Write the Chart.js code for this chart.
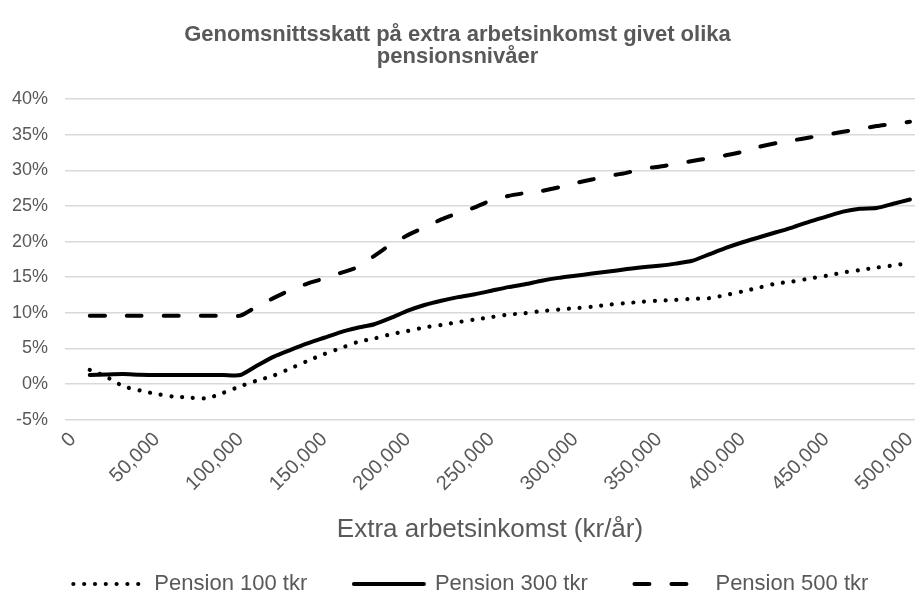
<!DOCTYPE html>
<html>
<head>
<meta charset="utf-8">
<script src="https://cdn.jsdelivr.net/npm/chart.js@4"></script>
<style>
    html, body { margin: 0; padding: 0; background: #ffffff; }
    #wrap { width: 915px; height: 605px; }
</style>
</head>
<body>
<div id="wrap"><canvas id="skattChart" width="915" height="605"></canvas></div>
<script>
// Extra arbetsinkomst (kr/år)
const incomes = [
    10000, 20000, 30000, 40000, 50000, 60000, 70000, 80000, 90000, 100000,
    110000, 120000, 130000, 140000, 150000, 160000, 170000, 180000, 190000, 200000,
    210000, 220000, 230000, 240000, 250000, 260000, 270000, 280000, 290000, 300000,
    310000, 320000, 330000, 340000, 350000, 360000, 370000, 380000, 390000, 400000,
    410000, 420000, 430000, 440000, 450000, 460000, 470000, 480000, 490000, 500000
];

// Genomsnittsskatt i procent
const pension100 = [
    2.0, 1.0, -0.3, -0.9, -1.4, -1.75, -1.9, -2.0, -1.2, -0.3,
    0.5, 1.2, 2.2, 3.25, 4.2, 5.05, 5.9, 6.4, 7.0, 7.45,
    7.95, 8.3, 8.7, 9.05, 9.4, 9.75, 9.95, 10.25, 10.45, 10.65,
    10.85, 11.15, 11.35, 11.55, 11.7, 11.8, 11.95, 12.05, 12.5, 13.0,
    13.55, 14.1, 14.4, 14.8, 15.2, 15.65, 16.0, 16.35, 16.65, 17.0
];
const pension300 = [
    1.27, 1.35, 1.4, 1.3, 1.27, 1.27, 1.27, 1.27, 1.27, 1.27,
    2.6, 3.86, 4.8, 5.7, 6.5, 7.3, 7.9, 8.4, 9.3, 10.3,
    11.1, 11.7, 12.2, 12.6, 13.1, 13.6, 14.0, 14.5, 14.9, 15.2,
    15.5, 15.8, 16.1, 16.4, 16.6, 16.9, 17.3, 18.2, 19.1, 19.9,
    20.6, 21.3, 22.0, 22.8, 23.5, 24.2, 24.6, 24.7, 25.3, 25.9
];
const pension500 = [
    9.6, 9.6, 9.6, 9.6, 9.6, 9.6, 9.6, 9.6, 9.6, 9.6,
    10.9, 12.1, 13.2, 14.1, 14.8, 15.6, 16.4, 18.0, 19.6, 20.9,
    22.0, 23.1, 24.0, 24.8, 25.8, 26.4, 26.8, 27.1, 27.6, 28.2,
    28.7, 29.2, 29.6, 30.2, 30.5, 30.9, 31.3, 31.7, 32.1, 32.6,
    33.3, 33.8, 34.2, 34.6, 35.0, 35.4, 35.8, 36.2, 36.5, 36.8
];

const xTicks = [0, 50000, 100000, 150000, 200000, 250000, 300000, 350000, 400000, 450000, 500000];
const yTicks = [-5, 0, 5, 10, 15, 20, 25, 30, 35, 40];

const textGray = '#595959';
const gridGray = '#d9d9d9';
const fontFamily = '"Liberation Sans", Arial, sans-serif';

function toPoints(values) {
    return values.map((v, i) => ({ x: incomes[i], y: v }));
}

// Gemensamma linjeinställningar
const lineBase = {
    borderColor: '#000000',
    backgroundColor: '#000000',
    pointRadius: 0,
    pointHoverRadius: 0,
    fill: false,
    tension: 0.2
};

document.addEventListener('DOMContentLoaded', function () {
    const ctx = document.getElementById('skattChart').getContext('2d');

    new Chart(ctx, {
        type: 'line',
        data: {
            datasets: [
                Object.assign({}, lineBase, {
                    label: 'Pension 100 tkr',
                    data: toPoints(pension100),
                    borderWidth: 4.2,
                    borderDash: [0.01, 10.8],
                    borderCapStyle: 'round'
                }),
                Object.assign({}, lineBase, {
                    label: 'Pension 300 tkr',
                    data: toPoints(pension300),
                    borderWidth: 4,
                    borderCapStyle: 'round'
                }),
                Object.assign({}, lineBase, {
                    label: 'Pension 500 tkr',
                    data: toPoints(pension500),
                    borderWidth: 4,
                    borderDash: [15, 22],
                    borderCapStyle: 'round'
                })
            ]
        },
        options: {
            responsive: false,
            animation: false,
            layout: {
                padding: { left: 0, right: 0, top: 0, bottom: 0 }
            },
            plugins: {
                title: {
                    display: true,
                    text: ['Genomsnittsskatt på extra arbetsinkomst givet olika', 'pensionsnivåer'],
                    color: textGray,
                    font: { family: fontFamily, size: 22, weight: 'bold', lineHeight: 1.0 },
                    padding: { top: 24, bottom: 31 }
                },
                legend: {
                    position: 'bottom',
                    align: 'end',
                    labels: {
                        usePointStyle: true,
                        pointStyle: 'line',
                        pointStyleWidth: 70,
                        color: textGray,
                        font: { family: fontFamily, size: 22 },
                        padding: 10,
                        // linjestil i legenden som i serierna
                        generateLabels: function (chart) {
                            return chart.data.datasets.map((ds, i) => ({
                                text: ds.label + '\u00a0\u00a0\u00a0\u00a0\u00a0\u00a0',
                                fillStyle: ds.borderColor,
                                strokeStyle: ds.borderColor,
                                fontColor: textGray,
                                lineWidth: ds.borderWidth,
                                lineDash: ds.borderDash || [],
                                lineCap: ds.borderCapStyle,
                                pointStyle: 'line',
                                hidden: false,
                                datasetIndex: i
                            }));
                        }
                    }
                },
                tooltip: { enabled: false }
            },
            scales: {
                x: {
                    type: 'linear',
                    min: -4800,
                    max: 503000,
                    afterBuildTicks: function (axis) {
                        axis.ticks = xTicks.map(v => ({ value: v }));
                    },
                    afterFit: function (axis) {
                        axis.paddingLeft = 0;
                        axis.paddingRight = 0;
                    },
                    grid: { display: false },
                    border: { display: false },
                    ticks: {
                        color: textGray,
                        font: { family: fontFamily, size: 20 },
                        minRotation: 45,
                        maxRotation: 45,
                        padding: 0,
                        callback: function (value) {
                            return Number(value).toLocaleString('en-US');
                        }
                    },
                    title: {
                        display: true,
                        text: 'Extra arbetsinkomst (kr/år)',
                        color: textGray,
                        font: { family: fontFamily, size: 26 },
                        padding: { top: 18, bottom: 18 }
                    }
                },
                y: {
                    min: -5,
                    max: 40,
                    afterBuildTicks: function (axis) {
                        axis.ticks = yTicks.map(v => ({ value: v }));
                    },
                    afterFit: function (axis) {
                        axis.width = 65;
                    },
                    grid: {
                        color: gridGray,
                        lineWidth: 1.5,
                        drawTicks: false
                    },
                    border: { display: false },
                    ticks: {
                        color: textGray,
                        font: { family: fontFamily, size: 18 },
                        padding: 17,
                        callback: function (value) {
                            return value + '%';
                        }
                    }
                }
            }
        }
    });
});
</script>
</body>
</html>
